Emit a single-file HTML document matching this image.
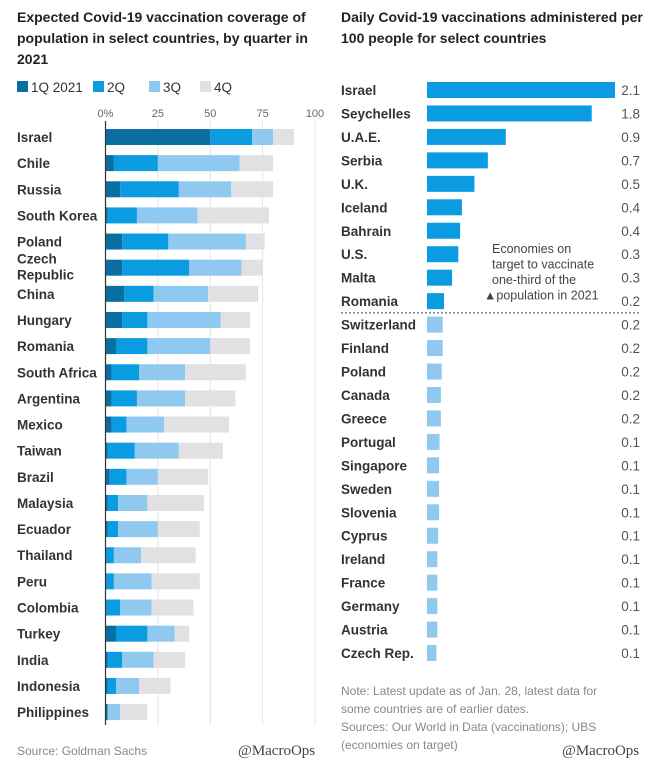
<!DOCTYPE html>
<html><head><meta charset="utf-8"><style>
body{margin:0;background:#fff;width:650px;height:767px;overflow:hidden;font-family:"Liberation Sans",sans-serif;}
</style></head><body>
<svg id="chart" width="650" height="767" font-family="Liberation Sans, sans-serif">
<g id="left"></g>
<g id="right"></g>
</svg>
<script>
const leftCountries=["Israel","Chile","Russia","South Korea","Poland","Czech Republic","China","Hungary","Romania","South Africa","Argentina","Mexico","Taiwan","Brazil","Malaysia","Ecuador","Thailand","Peru","Colombia","Turkey","India","Indonesia","Philippines"];
const q1=[50,4,7,1,8,8,9,8,5,3,3,3,1,2,1,1,0,0,0,5,1,1,1];
const q2=[20,21,28,14,22,32,14,12,15,13,12,7,13,8,5,5,4,4,7,15,7,4,0];
const q3=[10,39,25,29,37,25,26,35,30,22,23,18,21,15,14,19,13,18,15,13,15,11,6];
const q4=[10,16,20,34,9,10,24,14,19,29,24,31,21,24,27,20,26,23,20,7,15,15,13];
const xTicks=[0,25,50,75,100];
const xTickLabels=["0%","25","50","75","100"];
const rightCountries=["Israel","Seychelles","U.A.E.","Serbia","U.K.","Iceland","Bahrain","U.S.","Malta","Romania","Switzerland","Finland","Poland","Canada","Greece","Portugal","Singapore","Sweden","Slovenia","Cyprus","Ireland","France","Germany","Austria","Czech Rep."];
const rightValues=[2.1,1.84,0.88,0.68,0.53,0.39,0.37,0.35,0.28,0.19,0.175,0.175,0.165,0.155,0.155,0.14,0.135,0.135,0.135,0.125,0.115,0.115,0.115,0.115,0.105];
const rightLabels=["2.1","1.8","0.9","0.7","0.5","0.4","0.4","0.3","0.3","0.2","0.2","0.2","0.2","0.2","0.2","0.1","0.1","0.1","0.1","0.1","0.1","0.1","0.1","0.1","0.1"];
const onTarget=10;

const NS="http://www.w3.org/2000/svg";
function mk(parent,tag,attrs,text){const e=document.createElementNS(NS,tag);for(const k in attrs)e.setAttribute(k,attrs[k]);if(text!==undefined)e.textContent=text;parent.appendChild(e);return e;}
const L=document.getElementById('left');
const R=document.getElementById('right');
const cols=["#0a6ea3","#0a9be0","#8fc9ef","#e1e1e3"];

let t=mk(L,'text',{x:17,y:22,'font-size':14,'font-weight':'bold',fill:'#222'});


["Expected Covid-19 vaccination coverage of","population in select countries, by quarter in","2021"].forEach((s,i)=>{mk(t,'tspan',{x:17,y:22+i*21},s);});
const legNames=["1Q 2021","2Q","3Q","4Q"];const legX=[17,93,149,200];
legNames.forEach((n,i)=>{
 const g=mk(L,'g',{});
 
 
 mk(g,'rect',{x:legX[i],y:81,width:11,height:11,fill:cols[i]});
 mk(g,'text',{x:legX[i]+14,y:92,'font-size':13.5,fill:'#333'},n);
});
const x0=105.5,x1=315;
const xs=v=>x0+(x1-x0)*v/100;
const rowY=i=>137+i*26.14;
xTicks.forEach((v,i)=>{
 const l=mk(L,'line',{x1:xs(v),x2:xs(v),y1:121,y2:725,stroke:'#e4e4e4','stroke-width':1});
 
 
 const tx=mk(L,'text',{x:xs(v),y:117,'font-size':11,fill:'#666','text-anchor':'middle'},xTickLabels[i]);
 
 
});
leftCountries.forEach((c,i)=>{
 const y=rowY(i);
 if(c==="Czech Republic"){
  const tx=mk(L,'text',{x:17,'font-size':13.5,'font-weight':'bold',fill:'#333'});
  
  
  mk(tx,'tspan',{x:17,y:y-4},"Czech");mk(tx,'tspan',{x:17,y:y+12},"Republic");
 } else {
  const tx=mk(L,'text',{x:17,y:y+5,'font-size':13.5,'font-weight':'bold',fill:'#333'},c);
  
  
 }
 let acc=0;
 [q1,q2,q3,q4].forEach((arr,k)=>{
  const v=arr[i];if(v<=0)return;
  const r=mk(L,'rect',{x:xs(acc),y:y-8,width:xs(acc+v)-xs(acc),height:16,fill:cols[k]});
  
  
  acc+=v;
 });
});
mk(L,'line',{x1:x0,x2:x0,y1:121,y2:725,stroke:'#333','stroke-width':1.2});
let s=mk(L,'text',{x:17,y:755,'font-size':12,fill:'#888'},"Source: Goldman Sachs");


s=mk(L,'text',{x:238,y:755,'font-size':15,fill:'#444','font-family':'Liberation Serif, serif'},"@MacroOps");



t=mk(R,'text',{'font-size':14,'font-weight':'bold',fill:'#222'});


["Daily Covid-19 vaccinations administered per","100 people for select countries"].forEach((s2,i)=>{mk(t,'tspan',{x:341,y:22+i*21},s2);});
const rx0=427,rScale=188/2.1;
const rY=i=>90+i*23.46;
rightCountries.forEach((c,i)=>{
 const y=rY(i);
 const tx=mk(R,'text',{x:341,y:y+5,'font-size':13.5,'font-weight':'bold',fill:'#333'},c);
 
 
 const b=mk(R,'rect',{x:rx0,y:y-8,width:rightValues[i]*rScale,height:16,fill:i<onTarget?'#0a9be0':'#8fc9ef'});
 
 
 const v=mk(R,'text',{x:640,y:y+5,'font-size':13.5,fill:'#555','text-anchor':'end'},rightLabels[i]);
 
 
});
const dl=mk(R,'line',{x1:341,x2:641,y1:(rY(onTarget-1)+rY(onTarget))/2,y2:(rY(onTarget-1)+rY(onTarget))/2,stroke:'#444','stroke-width':1,'stroke-dasharray':'2,2'});


t=mk(R,'text',{'font-size':12.5,fill:'#444'});


["Economies on","target to vaccinate","one-third of the","\u25B2population in 2021"].forEach((s2,i)=>{mk(t,'tspan',{x:i==3?484:492,y:253+i*15.5},s2);});
t=mk(R,'text',{'font-size':12,fill:'#888'});


["Note: Latest update as of Jan. 28, latest data for","some countries are of earlier dates.","Sources: Our World in Data (vaccinations); UBS","(economies on target)"].forEach((s2,i)=>{mk(t,'tspan',{x:341,y:695+i*18},s2);});
s=mk(R,'text',{x:562,y:755,'font-size':15,fill:'#444','font-family':'Liberation Serif, serif'},"@MacroOps");


</script>
</body></html>
